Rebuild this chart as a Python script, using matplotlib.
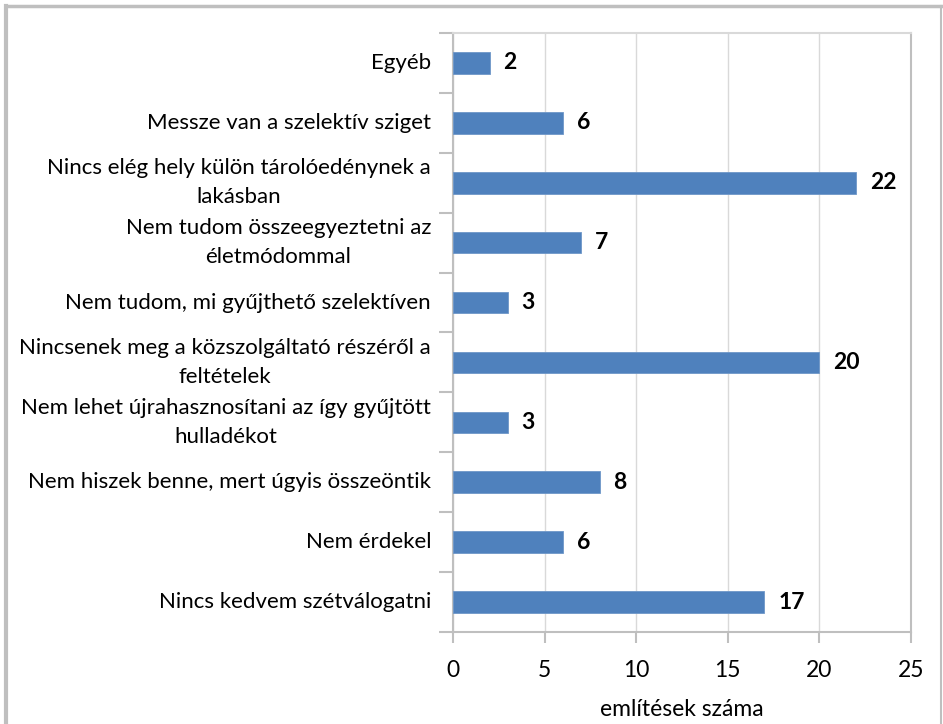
import matplotlib.pyplot as plt
import matplotlib.transforms as mtransforms
from matplotlib.lines import Line2D

plt.rcParams['font.family'] = ['Lato', 'DejaVu Sans']

categories = [
    "Nincs kedvem szétválogatni",
    "Nem érdekel",
    "Nem hiszek benne, mert úgyis összeöntik",
    "Nem lehet újrahasznosítani az így gyűjtött\nhulladékot",
    "Nincsenek meg a közszolgáltató részéről a\nfeltételek",
    "Nem tudom, mi gyűjthető szelektíven",
    "Nem tudom összeegyeztetni az\néletmódommal",
    "Nincs elég hely külön tárolóedénynek a\nlakásban",
    "Messze van a szelektív sziget",
    "Egyéb",
]
values = [17, 6, 8, 3, 20, 3, 7, 22, 6, 2]
xticks = [0, 5, 10, 15, 20, 25]

grid_col = '#D9D9D9'
axis_col = '#BFBFBF'
fs = 16.5
fs_cat = 16

fig = plt.figure(figsize=(9.43, 7.24), dpi=100)
ax = fig.add_axes([453 / 943, 1 - 632 / 724, (911 - 453) / 943, (632 - 33) / 724])

pos = list(range(len(categories)))
ax.barh(pos, values, height=0.36, color='#4F81BD', edgecolor='#6E97C8', linewidth=0.6, zorder=3)
for p, v in zip(pos, values):
    ax.text(v + 0.75, p, str(v), va='center', ha='left', fontsize=fs, fontweight='bold')

# category labels: one text per line, second line centred under the first
renderer = fig.canvas.get_renderer()
ytrans = ax.get_yaxis_transform()
lab_x = -22 / 458
for p, c in zip(pos, categories):
    lines = c.split('\n')
    if len(lines) == 1:
        ax.text(lab_x, p, c, transform=ytrans, ha='right', va='center', fontsize=fs_cat)
        continue
    tr1 = mtransforms.offset_copy(ytrans, fig=fig, x=0, y=14.5, units='dots')
    t1 = ax.text(lab_x, p, lines[0], transform=tr1, ha='right', va='center', fontsize=fs_cat)
    bb = t1.get_window_extent(renderer)
    cx = (bb.x0 + bb.x1) / 2 - ax.bbox.x0
    tr2 = mtransforms.offset_copy(ytrans, fig=fig, x=cx, y=-14.5, units='dots')
    ax.text(0, p, lines[1], transform=tr2, ha='center', va='center', fontsize=fs_cat)

ax.set_xlim(0, 25)
ax.set_ylim(-0.5, len(categories) - 0.5)
ax.set_xticks(xticks)
ax.set_xticklabels([str(t) for t in xticks], fontsize=fs)
ax.set_yticks([p - 0.5 for p in range(len(categories) + 1)])
ax.set_yticklabels([])
ax.tick_params(axis='y', length=10, width=1.5, color=axis_col)
ax.tick_params(axis='x', length=8, width=1.5, color=axis_col, pad=12)

ax.grid(axis='x', color=grid_col, linewidth=1, zorder=0)
for side in ['left', 'bottom', 'top', 'right']:
    ax.spines[side].set_color(axis_col)
    ax.spines[side].set_linewidth(1.5)
ax.spines['top'].set_color(grid_col)

ax.set_xlabel('említések száma', fontsize=fs, labelpad=13)

# outer chart border (left, top, right)
fig.add_artist(Line2D([6 / 943, 6 / 943], [0, 1 - 6 / 724], color=axis_col, linewidth=3))
fig.add_artist(Line2D([6 / 943, 941 / 943], [1 - 6 / 724, 1 - 6 / 724], color=axis_col, linewidth=2.5))
fig.add_artist(Line2D([941 / 943, 941 / 943], [0, 1 - 6 / 724], color=axis_col, linewidth=1.5))

fig.savefig('out.png', dpi=100)
